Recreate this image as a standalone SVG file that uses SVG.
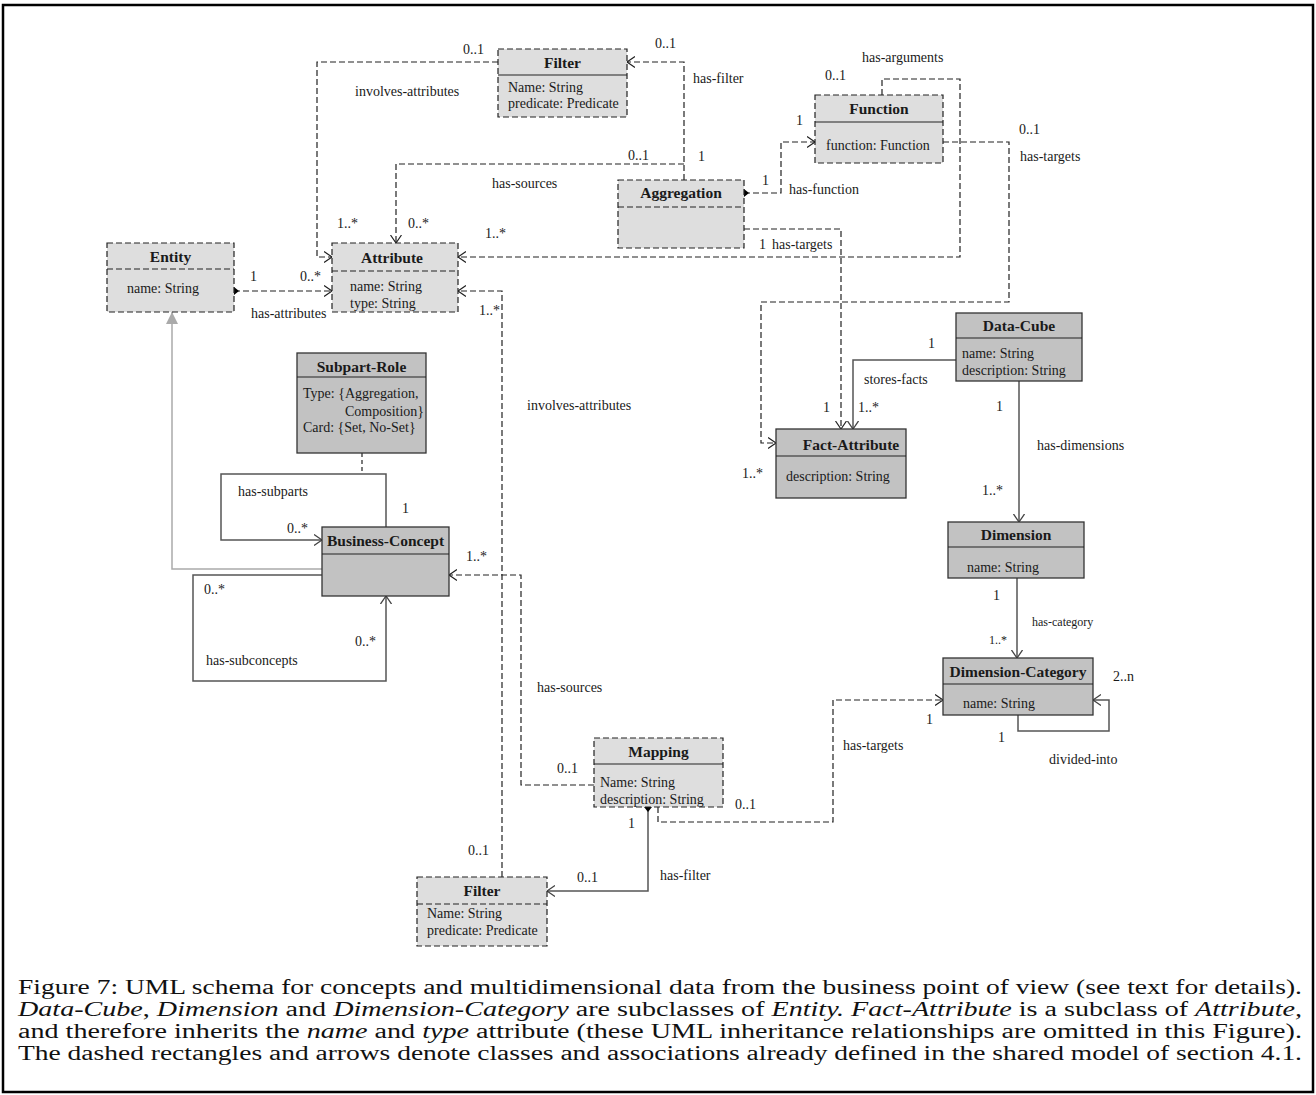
<svg xmlns="http://www.w3.org/2000/svg" width="1316" height="1095" viewBox="0 0 1316 1095">
  <style>
    text { font-family: "Liberation Serif", "Times New Roman", serif; fill: #1a1a1a; }
    .frame { fill: #fff; stroke: #000; stroke-width: 2.5; }
    .bd { fill: #dedede; stroke: #222; stroke-width: 1.2; stroke-dasharray: 6 3; }
    .bs { fill: #c2c2c2; stroke: #333; stroke-width: 1.3; }
    .dv { stroke: #222; stroke-width: 1.2; }
    .dvd { stroke: #222; stroke-width: 1.2; stroke-dasharray: 6 3; }
    .title { font-size: 15.5px; font-weight: bold; text-anchor: middle; }
    .att { font-size: 14px; }
    .lbl { font-size: 14px; }
    .sm { font-size: 12px; }
    .cd { fill: none; stroke: #222; stroke-width: 1.2; stroke-dasharray: 6 3; }
    .cs { fill: none; stroke: #555; stroke-width: 1.5; }
    .cg { fill: none; stroke: #aaa; stroke-width: 1.5; }
    .cap { font-size: 20px; fill: #111; }
  </style>
  <defs>
    <marker id="arr" viewBox="0 0 8 12" refX="8" refY="6" markerWidth="8" markerHeight="12" markerUnits="userSpaceOnUse" orient="auto">
      <path d="M0,0.5 L8,6 L0,11.5" fill="none" stroke="#222" stroke-width="1.2"/>
    </marker>
    <marker id="arrs" viewBox="0 0 8 12" refX="8" refY="6" markerWidth="8" markerHeight="12" markerUnits="userSpaceOnUse" orient="auto">
      <path d="M0,0.5 L8,6 L0,11.5" fill="none" stroke="#444" stroke-width="1.3"/>
    </marker>
    <marker id="dia" viewBox="0 0 10 8" refX="5" refY="4" markerWidth="10" markerHeight="8" markerUnits="userSpaceOnUse" orient="auto">
      <path d="M0,4 L5,0 L10,4 L5,8 Z" fill="#000"/>
    </marker>
    <marker id="tri" viewBox="0 0 12 12" refX="12" refY="6" markerWidth="12" markerHeight="12" markerUnits="userSpaceOnUse" orient="auto">
      <path d="M0,0 L12,6 L0,12 Z" fill="#aaa"/>
    </marker>
  </defs>

  <rect class="frame" x="3" y="5" width="1310" height="1087"/>

  <!-- associations -->
  <g id="connectors">
    <!-- Filter involves-attributes -->
    <polyline class="cd" points="498,62 317,62 317,257 332,257" marker-end="url(#arr)"/>
    <!-- Aggregation has-filter -->
    <polyline class="cd" points="684,180 684,62 627,62" marker-end="url(#arr)"/>
    <!-- Aggregation has-sources -->
    <polyline class="cd" points="684,164 396,164 396,243" marker-end="url(#arr)"/>
    <!-- Aggregation has-function -->
    <polyline class="cd" points="744,193 781,193 781,142 815,142" marker-start="url(#dia)" marker-end="url(#arr)"/>
    <!-- Function has-arguments -->
    <polyline class="cd" points="882,95 882,79 960,79 960,257 458,257" marker-end="url(#arr)"/>
    <!-- Function has-targets -->
    <polyline class="cd" points="943,142 1009,142 1009,302 761,302 761,443 776,443" marker-end="url(#arr)"/>
    <!-- Aggregation has-targets -->
    <polyline class="cd" points="744,229 841,229 841,429" marker-end="url(#arr)"/>
    <!-- Entity has-attributes -->
    <polyline class="cd" points="234,291 332,291" marker-start="url(#dia)" marker-end="url(#arr)"/>
    <!-- lower Filter involves-attributes -->
    <polyline class="cd" points="502,877 502,291 458,291" marker-end="url(#arr)"/>
    <!-- Mapping has-sources -->
    <polyline class="cd" points="594,785 521,785 521,575 449,575" marker-end="url(#arr)"/>
    <!-- Mapping has-filter -->
    <polyline class="cs" points="648,807 648,891 547,891" marker-start="url(#dia)" marker-end="url(#arrs)"/>
    <!-- Mapping has-targets -->
    <polyline class="cd" points="658,807 658,822 833,822 833,700 943,700" marker-end="url(#arr)"/>
    <!-- Data-Cube stores-facts -->
    <polyline class="cs" points="956,360 853,360 853,429" marker-end="url(#arrs)"/>
    <!-- Data-Cube has-dimensions -->
    <polyline class="cs" points="1019,381 1019,522" marker-end="url(#arrs)"/>
    <!-- Dimension has-category -->
    <polyline class="cs" points="1017,578 1017,658" marker-end="url(#arrs)"/>
    <!-- Dimension-Category divided-into -->
    <polyline class="cs" points="1018,715 1018,731 1109,731 1109,700 1093,700" marker-end="url(#arrs)"/>
    <!-- Subpart-Role association class link -->
    <polyline class="cd" points="362,453 362,474" style="stroke-dasharray:4 3"/>
    <!-- Business-Concept has-subparts -->
    <polyline class="cs" points="386,527 386,474 221,474 221,540 322,540" marker-end="url(#arrs)"/>
    <!-- Business-Concept has-subconcepts -->
    <polyline class="cs" points="322,575 193,575 193,681 386,681 386,596" marker-end="url(#arrs)"/>
    <!-- Business-Concept generalizes to Entity -->
    <polyline class="cg" points="322,569 172,569 172,312" marker-end="url(#tri)"/>
  </g>

  <!-- association labels and multiplicities -->
  <g id="labels" class="lbl">
    <text class="lbl" x="463" y="54">0..1</text>
    <text class="lbl" x="355" y="96">involves-attributes</text>
    <text class="lbl" x="655" y="48">0..1</text>
    <text class="lbl" x="693" y="83">has-filter</text>
    <text class="lbl" x="628" y="160">0..1</text>
    <text class="lbl" x="698" y="161">1</text>
    <text class="lbl" x="492" y="188">has-sources</text>
    <text class="lbl" x="337" y="228">1..*</text>
    <text class="lbl" x="408" y="228">0..*</text>
    <text class="lbl" x="485" y="238">1..*</text>
    <text class="lbl" x="250" y="281">1</text>
    <text class="lbl" x="300" y="281">0..*</text>
    <text class="lbl" x="251" y="318">has-attributes</text>
    <text class="lbl" x="479" y="315">1..*</text>
    <text class="lbl" x="862" y="62">has-arguments</text>
    <text class="lbl" x="825" y="80">0..1</text>
    <text class="lbl" x="796" y="125">1</text>
    <text class="lbl" x="762" y="185">1</text>
    <text class="lbl" x="789" y="194">has-function</text>
    <text class="lbl" x="1019" y="134">0..1</text>
    <text class="lbl" x="1020" y="161">has-targets</text>
    <text class="lbl" x="759" y="249">1</text>
    <text class="lbl" x="772" y="249">has-targets</text>
    <text class="lbl" x="928" y="348">1</text>
    <text class="lbl" x="864" y="384">stores-facts</text>
    <text class="lbl" x="823" y="412">1</text>
    <text class="lbl" x="858" y="412">1..*</text>
    <text class="lbl" x="742" y="478">1..*</text>
    <text class="lbl" x="996" y="411">1</text>
    <text class="lbl" x="1037" y="450">has-dimensions</text>
    <text class="lbl" x="982" y="495">1..*</text>
    <text class="lbl" x="993" y="600">1</text>
    <text class="sm" x="1032" y="626">has-category</text>
    <text class="sm" x="989" y="644">1..*</text>
    <text class="lbl" x="1113" y="681">2..n</text>
    <text class="lbl" x="926" y="724">1</text>
    <text class="lbl" x="998" y="742">1</text>
    <text class="lbl" x="1049" y="764">divided-into</text>
    <text class="lbl" x="843" y="750">has-targets</text>
    <text class="lbl" x="735" y="809">0..1</text>
    <text class="lbl" x="527" y="410">involves-attributes</text>
    <text class="lbl" x="466" y="561">1..*</text>
    <text class="lbl" x="537" y="692">has-sources</text>
    <text class="lbl" x="557" y="773">0..1</text>
    <text class="lbl" x="628" y="828">1</text>
    <text class="lbl" x="577" y="882">0..1</text>
    <text class="lbl" x="660" y="880">has-filter</text>
    <text class="lbl" x="468" y="855">0..1</text>
    <text class="lbl" x="238" y="496">has-subparts</text>
    <text class="lbl" x="287" y="533">0..*</text>
    <text class="lbl" x="402" y="513">1</text>
    <text class="lbl" x="204" y="594">0..*</text>
    <text class="lbl" x="355" y="646">0..*</text>
    <text class="lbl" x="206" y="665">has-subconcepts</text>
  </g>

  <!-- classes from the shared model (dashed) -->
  <g id="filter-top">
    <rect class="bd" x="498" y="49" width="129" height="68"/>
    <line class="dv" x1="498" y1="75" x2="627" y2="75"/>
    <text class="title" x="562.5" y="68">Filter</text>
    <text class="att" x="508" y="92">Name: String</text>
    <text class="att" x="508" y="108">predicate: Predicate</text>
  </g>
  <g id="attribute">
    <rect class="bd" x="332" y="243" width="126" height="69"/>
    <line class="dvd" x1="332" y1="271" x2="458" y2="271"/>
    <text class="title" x="392" y="263">Attribute</text>
    <text class="att" x="350" y="291">name: String</text>
    <text class="att" x="350" y="308">type: String</text>
  </g>
  <g id="entity">
    <rect class="bd" x="107" y="243" width="127" height="69"/>
    <line class="dvd" x1="107" y1="269" x2="234" y2="269"/>
    <text class="title" x="170.5" y="262">Entity</text>
    <text class="att" x="127" y="293">name: String</text>
  </g>
  <g id="aggregation">
    <rect class="bd" x="618" y="180" width="126" height="68"/>
    <line class="dvd" x1="618" y1="207" x2="744" y2="207"/>
    <text class="title" x="681" y="198">Aggregation</text>
  </g>
  <g id="function">
    <rect class="bd" x="815" y="95" width="128" height="68"/>
    <line class="dv" x1="815" y1="122" x2="943" y2="122"/>
    <text class="title" x="879" y="114">Function</text>
    <text class="att" x="826" y="150">function: Function</text>
  </g>
  <g id="mapping">
    <rect class="bd" x="594" y="738" width="129" height="69"/>
    <line class="dv" x1="594" y1="764" x2="723" y2="764"/>
    <text class="title" x="658.5" y="757">Mapping</text>
    <text class="att" x="600" y="787">Name: String</text>
    <text class="att" x="600" y="804">description: String</text>
  </g>
  <g id="filter-bottom">
    <rect class="bd" x="417" y="877" width="130" height="69"/>
    <line class="dvd" x1="417" y1="904" x2="547" y2="904"/>
    <text class="title" x="482" y="896">Filter</text>
    <text class="att" x="427" y="918">Name: String</text>
    <text class="att" x="427" y="935">predicate: Predicate</text>
  </g>

  <!-- business-level classes (solid) -->
  <g id="subpart-role">
    <rect class="bs" x="297" y="353" width="129" height="100"/>
    <line class="dv" x1="297" y1="377" x2="426" y2="377"/>
    <text class="title" x="361.5" y="372">Subpart-Role</text>
    <text class="att" x="303" y="398">Type: {Aggregation,</text>
    <text class="att" x="345" y="416">Composition}</text>
    <text class="att" x="303" y="432">Card: {Set, No-Set}</text>
  </g>
  <g id="business-concept">
    <rect class="bs" x="322" y="527" width="127" height="69"/>
    <line class="dv" x1="322" y1="554" x2="449" y2="554"/>
    <text class="title" x="385.5" y="546">Business-Concept</text>
  </g>
  <g id="data-cube">
    <rect class="bs" x="956" y="313" width="126" height="68"/>
    <line class="dv" x1="956" y1="338" x2="1082" y2="338"/>
    <text class="title" x="1019" y="331">Data-Cube</text>
    <text class="att" x="962" y="358">name: String</text>
    <text class="att" x="962" y="375">description: String</text>
  </g>
  <g id="fact-attribute">
    <rect class="bs" x="776" y="429" width="130" height="69"/>
    <line class="dv" x1="776" y1="456" x2="906" y2="456"/>
    <text class="title" x="851" y="450">Fact-Attribute</text>
    <text class="att" x="786" y="481">description: String</text>
  </g>
  <g id="dimension">
    <rect class="bs" x="948" y="522" width="136" height="56"/>
    <line class="dv" x1="948" y1="547" x2="1084" y2="547"/>
    <text class="title" x="1016" y="540">Dimension</text>
    <text class="att" x="967" y="572">name: String</text>
  </g>
  <g id="dimension-category">
    <rect class="bs" x="943" y="658" width="150" height="57"/>
    <line class="dv" x1="943" y1="684" x2="1093" y2="684"/>
    <text class="title" x="1018" y="677">Dimension-Category</text>
    <text class="att" x="963" y="708">name: String</text>
  </g>

  <!-- caption -->
  <g id="caption" class="cap">
    <text class="cap" x="18" y="994" textLength="1284" lengthAdjust="spacingAndGlyphs">Figure 7: UML schema for concepts and multidimensional data from the business point of view (see text for details).</text>
    <text class="cap" x="18" y="1016" textLength="1284" lengthAdjust="spacingAndGlyphs"><tspan font-style="italic">Data-Cube</tspan>, <tspan font-style="italic">Dimension</tspan> and <tspan font-style="italic">Dimension-Category</tspan> are subclasses of <tspan font-style="italic">Entity.</tspan> <tspan font-style="italic">Fact-Attribute</tspan> is a subclass of <tspan font-style="italic">Attribute,</tspan></text>
    <text class="cap" x="18" y="1038" textLength="1284" lengthAdjust="spacingAndGlyphs">and therefore inherits the <tspan font-style="italic">name</tspan> and <tspan font-style="italic">type</tspan> attribute (these UML inheritance relationships are omitted in this Figure).</text>
    <text class="cap" x="18" y="1060" textLength="1284" lengthAdjust="spacingAndGlyphs">The dashed rectangles and arrows denote classes and associations already defined in the shared model of section 4.1.</text>
  </g>
</svg>
